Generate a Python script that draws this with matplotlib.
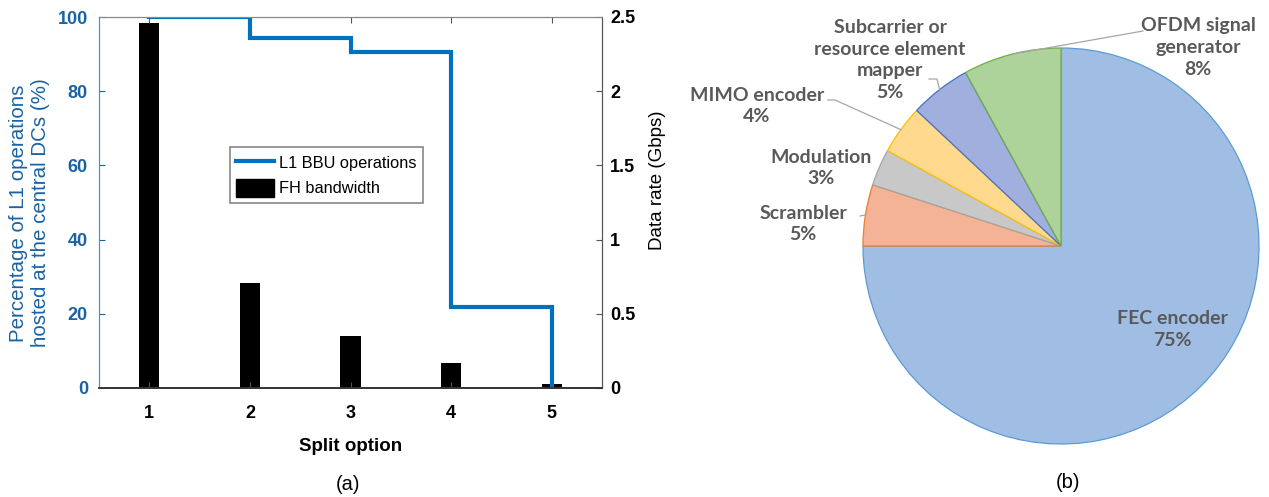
import numpy as np
import matplotlib
matplotlib.use("Agg")
import matplotlib.pyplot as plt
from matplotlib.lines import Line2D
from matplotlib.patches import Patch

# (a) split options
split_options = [1, 2, 3, 4, 5]
l1_ops_pct = [100, 94.4, 90.6, 21.8, 0]           # % of L1 ops in central DCs
fh_bandwidth = [2.46, 0.71, 0.35, 0.17, 0.025]     # Gbps

# (b) L1 processing share
pie_labels = ["FEC encoder", "Scrambler", "Modulation", "MIMO encoder",
              "Subcarrier or\nresource element\nmapper", "OFDM signal\ngenerator"]
pie_values = [75, 5, 3, 4, 5, 8]

W, H = 1269, 497
fig = plt.figure(figsize=(W / 100, H / 100), dpi=100)

blue = "#0072BD"
blue_txt = "#1a63a3"
font_a = "Liberation Sans"

# ---------- (a) ----------
ax = fig.add_axes([99 / W, (H - 388) / H, 503 / W, 371 / H])
ax2 = ax.twinx()
ax.set_zorder(ax2.get_zorder() + 1)
ax.patch.set_visible(False)

ax2.bar(split_options, fh_bandwidth, width=0.2, color="black", zorder=2)
ax.plot(split_options, l1_ops_pct, drawstyle="steps-post", color=blue, lw=3,
        solid_joinstyle="miter")

ax.set_xlim(0.5, 5.5)
ax.set_ylim(0, 100)
ax2.set_ylim(0, 2.5)
ax.set_xticks(split_options)
ax.set_yticks([0, 20, 40, 60, 80, 100])
ax2.set_yticks([0, 0.5, 1, 1.5, 2, 2.5])
ax2.set_yticklabels(["0", "0.5", "1", "1.5", "2", "2.5"])

ax.tick_params(axis="x", direction="in", top=True, length=4, pad=12,
               labelsize=13, color="#555555")
ax.tick_params(axis="y", direction="in", length=4, pad=8, labelsize=13,
               colors=blue_txt)
ax2.tick_params(axis="y", direction="in", length=4, pad=6, labelsize=13,
                color="#555555")
for lab in ax.get_xticklabels() + ax.get_yticklabels() + ax2.get_yticklabels():
    lab.set_fontfamily(font_a)
    lab.set_fontweight("bold")

for a in (ax, ax2):
    a.spines["left"].set_color("#4a90d0")
    a.spines["right"].set_color("#555555")
    a.spines["top"].set_color("#888888")
    a.spines["bottom"].set_color("#333333")
    a.spines["bottom"].set_linewidth(1.2)

ax.set_xlabel("Split option", fontsize=13.5, fontweight="bold", family=font_a,
              labelpad=12)

fig.text(29.5 / W, 1 - 213 / H,
         "Percentage of L1 operations\nhosted at the central DCs (%)",
         rotation=90, ha="center", va="center", ma="center", fontsize=14.8,
         color=blue_txt, family=font_a, linespacing=1.15)
fig.text(657 / W, 1 - 180 / H, "Data rate (Gbps)", rotation=90,
         ha="center", va="center", fontsize=13.5, family=font_a)

handles = [Line2D([], [], color=blue, lw=3),
           Patch(facecolor="black", edgecolor="black")]
leg = ax.legend(handles, ["L1 BBU operations", "FH bandwidth"],
                loc="upper left", bbox_to_anchor=(0.26, 0.65), borderaxespad=0,
                fancybox=False, edgecolor="#888888", framealpha=1,
                prop={"family": font_a, "size": 11.8}, handlelength=2.3,
                handleheight=1.3, handletextpad=0.3, borderpad=0.4,
                labelspacing=0.45)
leg.get_frame().set_linewidth(1.2)

fig.text(348 / W, 1 - 484 / H, "(a)", ha="center", va="center",
         fontsize=14.5, family=font_a)

# ---------- (b) ----------
cx, cy, r = 1061, 246, 198
axp = fig.add_axes([(cx - r) / W, (H - cy - r) / H, 2 * r / W, 2 * r / H])
fills = ["#a0bee4", "#f4b297", "#c8c8c8", "#fed98e", "#a0afdd", "#aed39a"]
edges = ["#5b9bd5", "#ed7d31", "#a5a5a5", "#ffc000", "#4472c4", "#70ad47"]
wedges, _ = axp.pie(pie_values, startangle=90, counterclock=False, radius=1,
                    colors=fills)
for w, ec in zip(wedges, edges):
    w.set_edgecolor(ec)
    w.set_linewidth(0.9)
axp.set_xlim(-1, 1)
axp.set_ylim(-1, 1)
axp.axis("off")
axp.set_clip_on(False)


def px(x, y):
    return ((x - cx) / r, (cy - y) / r)


label_pos = [px(1172, 329.5), px(803, 224), px(821, 168), px(757, 106),
             px(890, 60), px(1198, 47.5)]
# leader elbows (pixel coords of the bend / end near the text), None = no leader
leaders = [None, [(860, 216)], None, [(835, 100), (828, 100)],
           [(937, 79), (929, 79)], [(1143, 31)]]

txt_col = "#595959"
for w, lab, v, pos, ld in zip(wedges, pie_labels, pie_values, label_pos, leaders):
    axp.text(pos[0], pos[1], f"{lab}\n{v}%", ha="center", va="center",
             ma="center", fontsize=14, fontweight="bold", color=txt_col,
             family="Lato", linespacing=1.35, clip_on=False)
    if ld is not None:
        th = np.deg2rad((w.theta1 + w.theta2) / 2)
        pts = [(np.cos(th), np.sin(th))] + [px(*p) for p in ld]
        xs, ys = zip(*pts)
        axp.plot(xs, ys, color="#a6a6a6", lw=0.9, clip_on=False)

fig.text(1068 / W, 1 - 483 / H, "(b)", ha="center", va="center",
         fontsize=14.5, family=font_a)

fig.savefig("out.png", dpi=100)
